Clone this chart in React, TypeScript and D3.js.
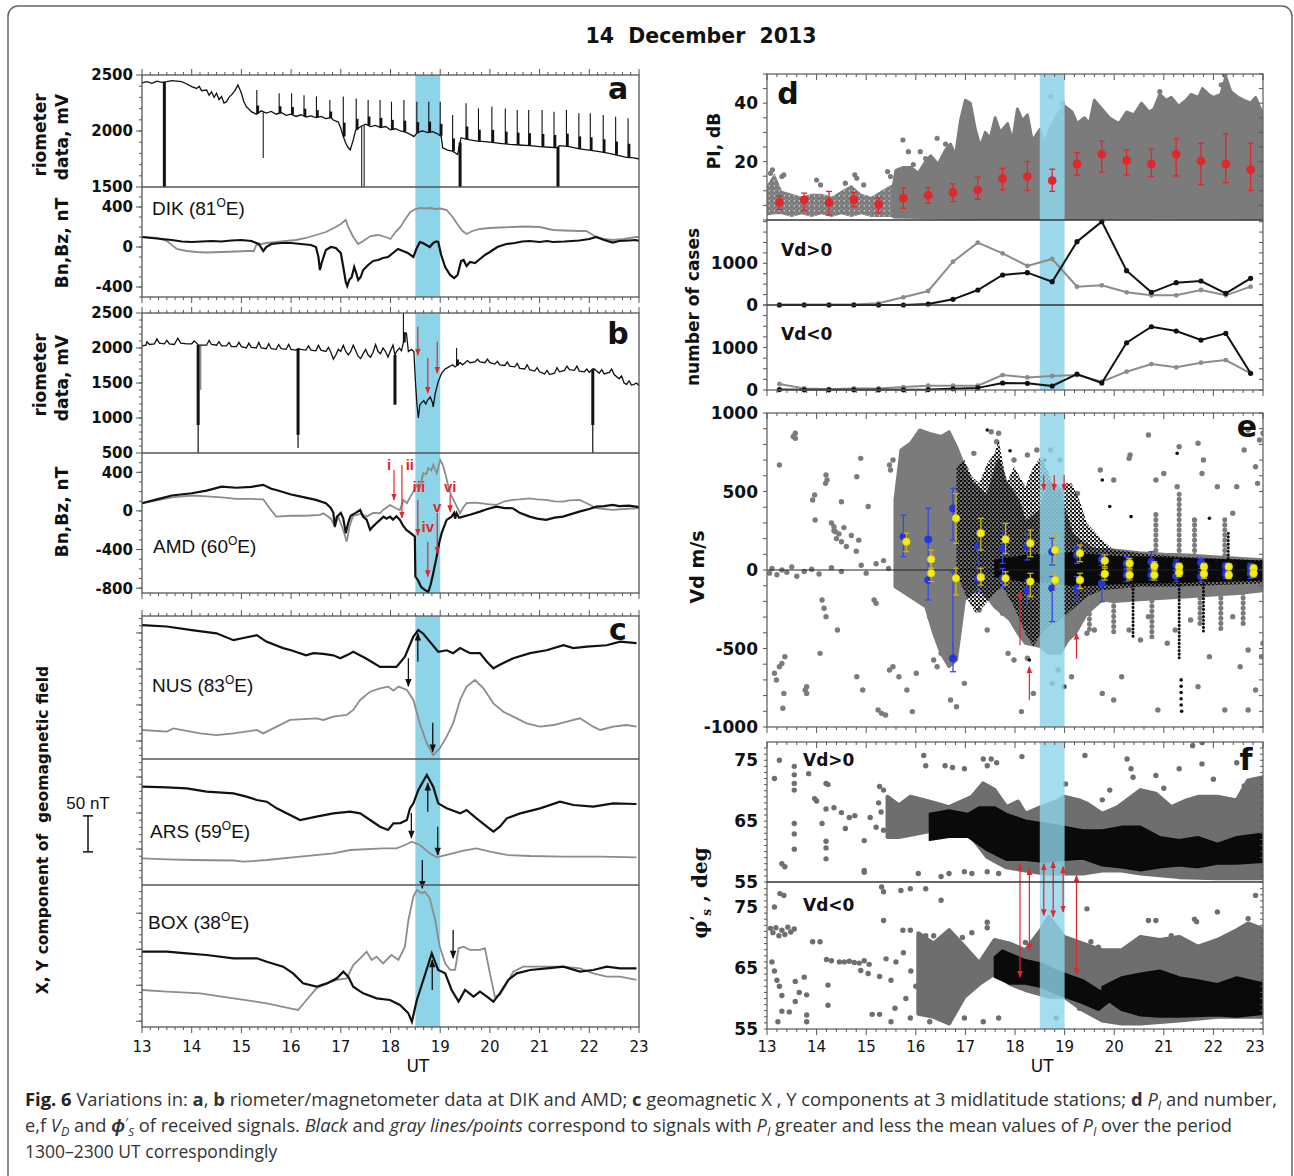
import React from "react";
import * as d3 from "d3";

type P = [number, number];
type R = [number, number, number];
type Q = [number, number, number, number];
type Lin = d3.ScaleLinear<number, number>;

// ---------- shared ----------
const utTicks = d3.range(13, 24);
const eventBand: P = [18.5, 19];

// ---------- panel a: DIK ----------
const dikRio: P[] = [
  [13.0, 2430], [13.1, 2440], [13.2, 2425], [13.3, 2445], [13.4, 2435], [13.5, 2440], [13.6, 2450], [13.7, 2445],
  [13.8, 2440], [13.9, 2420], [14.0, 2396], [14.1, 2380], [14.15, 2400], [14.2, 2360], [14.3, 2366], [14.35, 2320],
  [14.4, 2350], [14.45, 2300], [14.5, 2337], [14.55, 2280], [14.6, 2307], [14.65, 2250], [14.7, 2262], [14.75, 2300],
  [14.8, 2322], [14.87, 2360], [14.93, 2410], [14.97, 2370], [15.0, 2337], [15.05, 2260], [15.1, 2217], [15.2, 2173],
  [15.3, 2150], [15.4, 2180], [15.5, 2160], [15.6, 2175], [15.7, 2150], [15.8, 2165], [15.9, 2140], [16.0, 2150],
  [16.1, 2130], [16.2, 2145], [16.3, 2125], [16.4, 2135], [16.5, 2120], [16.6, 2130], [16.7, 2110], [16.8, 2120],
  [16.85, 2098], [16.95, 2080], [17.0, 2024], [17.05, 1950], [17.1, 1890], [17.15, 1850], [17.19, 1830], [17.25, 1920],
  [17.3, 2008], [17.4, 2040], [17.5, 2060], [17.6, 2040], [17.7, 2050], [17.8, 2030], [17.9, 2040], [18.0, 2010],
  [18.1, 2020], [18.2, 2000], [18.3, 1990], [18.4, 1970], [18.47, 1950], [18.55, 1990], [18.65, 2000], [18.75, 1985],
  [18.85, 1995], [18.95, 1975], [19.02, 1950], [19.05, 1850], [19.15, 1830], [19.25, 1820], [19.35, 1790], [19.42, 1940],
  [19.5, 1930], [19.6, 1920], [19.75, 1910], [19.9, 1905], [20.0, 1900], [20.2, 1890], [20.4, 1880], [20.6, 1875],
  [20.8, 1870], [21.0, 1860], [21.2, 1855], [21.35, 1850], [21.4, 1870], [21.6, 1860], [21.8, 1840], [22.0, 1830],
  [22.2, 1815], [22.4, 1800], [22.6, 1780], [22.75, 1765], [22.9, 1760], [23.0, 1750],
];
const dikRioSpikes: P[] = [
  [15.31, 2366], [15.76, 2336], [16.01, 2336], [16.26, 2320], [16.51, 2307], [16.78, 2277], [17.05, 2307], [17.31, 2290],
  [17.55, 2277], [17.79, 2277], [18.02, 2262], [18.27, 2277], [18.53, 2262], [18.77, 2262], [19.0, 2262], [19.25, 2143],
  [19.52, 2247], [19.77, 2202], [20.04, 2217], [20.31, 2200], [20.55, 2187], [20.78, 2187], [21.05, 2187], [21.29, 2172],
  [21.54, 2187], [21.79, 2158], [22.02, 2158], [22.28, 2143], [22.53, 2128], [22.78, 2113],
];
const dikRioDipsThick: P[] = [[13.45, 1500], [19.4, 1500], [21.37, 1500]];
const dikRioDipsThin: P[] = [[15.44, 1760], [17.42, 1500], [17.47, 1500]];
const dikBlack: P[] = [
  [13.0, 100], [13.2, 90], [13.4, 80], [13.6, 70], [13.8, 55], [14.0, 50], [14.2, 55], [14.4, 60], [14.6, 55], [14.8, 65],
  [15.0, 70], [15.2, 60], [15.35, 30], [15.44, -40], [15.5, 0], [15.6, 30], [15.8, 40], [16.0, 40], [16.2, 30], [16.4, 20],
  [16.5, 0], [16.55, -100], [16.58, -230], [16.62, -150], [16.7, -30], [16.8, 0], [16.9, -10], [17.0, -60], [17.05, -200],
  [17.1, -350], [17.13, -390], [17.17, -330], [17.22, -300], [17.27, -200], [17.31, -260], [17.35, -330], [17.4, -300],
  [17.45, -230], [17.55, -180], [17.65, -140], [17.75, -130], [17.85, -110], [17.95, -100], [18.05, -60], [18.15, -20],
  [18.25, -40], [18.35, -60], [18.46, -100], [18.52, -20], [18.59, 50], [18.65, 40], [18.72, 20], [18.79, 0], [18.86, 40],
  [18.92, 55], [18.96, 50], [19.02, -80], [19.1, -200], [19.2, -280], [19.28, -310], [19.35, -280], [19.42, -140],
  [19.47, -130], [19.53, -190], [19.6, -150], [19.7, -160], [19.8, -120], [19.9, -80], [20.0, -50], [20.15, 0], [20.33, 30],
  [20.5, 40], [20.65, 55], [20.8, 60], [21.0, 50], [21.15, 60], [21.27, 50], [21.5, 55], [21.65, 60], [21.8, 65], [22.0, 80],
  [22.14, 100], [22.3, 70], [22.47, 45], [22.6, 60], [22.8, 65], [22.94, 70], [23.0, 60],
];
const dikGray: P[] = [
  [13.0, 100], [13.3, 90], [13.5, 60], [13.7, -20], [13.9, -40], [14.1, -50], [14.3, -55], [14.6, -50], [14.9, -45],
  [15.1, -40], [15.25, -40], [15.3, 20], [15.5, 40], [15.7, 50], [15.9, 60], [16.1, 70], [16.3, 90], [16.5, 120],
  [16.7, 150], [16.9, 200], [17.0, 230], [17.1, 270], [17.15, 200], [17.25, 100], [17.35, 30], [17.45, 60], [17.6, 110],
  [17.75, 120], [17.9, 100], [18.0, 80], [18.1, 150], [18.2, 200], [18.3, 280], [18.4, 350], [18.5, 380], [18.6, 390],
  [18.7, 385], [18.8, 390], [18.9, 380], [19.0, 385], [19.13, 370], [19.25, 300], [19.33, 240], [19.45, 160], [19.53, 130],
  [19.65, 160], [19.8, 180], [20.0, 190], [20.2, 195], [20.46, 200], [20.7, 205], [21.0, 200], [21.27, 170], [21.5, 165],
  [21.8, 160], [21.94, 160], [22.14, 100], [22.3, 80], [22.47, 70], [22.7, 80], [22.94, 100], [23.0, 100],
];

// ---------- panel b: AMD ----------
const amdRio: P[] = [
  [13.0, 2030], [13.08, 2040], [13.1, 2090], [13.15, 2050], [13.25, 2060], [13.3, 2130], [13.35, 2070], [13.45, 2060],
  [13.5, 2110], [13.55, 2060], [13.65, 2050], [13.72, 2140], [13.78, 2070], [13.9, 2060], [14.0, 2060], [14.05, 2100],
  [14.1, 2070], [14.13, 2040], [14.2, 2040], [14.3, 2040], [14.35, 2110], [14.4, 2050], [14.5, 2040], [14.55, 2090],
  [14.6, 2030], [14.7, 2030], [14.75, 2080], [14.8, 2020], [14.9, 2020], [14.95, 2080], [15.0, 2020], [15.1, 2000],
  [15.15, 2070], [15.2, 2010], [15.3, 2000], [15.35, 2080], [15.4, 2000], [15.5, 1990], [15.55, 2060], [15.6, 1990],
  [15.7, 1980], [15.75, 2050], [15.8, 1990], [15.9, 1980], [15.95, 2050], [16.0, 1980], [16.1, 1970], [16.14, 1990],
  [16.2, 1980], [16.3, 1970], [16.35, 2030], [16.4, 1970], [16.5, 1960], [16.55, 2040], [16.6, 1970], [16.7, 1950],
  [16.75, 2010], [16.8, 1940], [16.85, 1840], [16.9, 1900], [16.95, 1980], [17.0, 1950], [17.05, 2040], [17.1, 1950],
  [17.15, 1900], [17.2, 1950], [17.25, 2040], [17.3, 1960], [17.35, 1880], [17.4, 1850], [17.45, 1920], [17.5, 1980],
  [17.55, 1900], [17.6, 1870], [17.65, 1940], [17.7, 2050], [17.75, 1950], [17.8, 1920], [17.85, 2000], [17.9, 1950],
  [17.95, 1870], [18.0, 1960], [18.05, 2040], [18.09, 1900], [18.12, 1950], [18.18, 2000], [18.22, 1960], [18.26, 2080],
  [18.28, 2200], [18.32, 2210], [18.36, 1950], [18.42, 1980], [18.47, 1950], [18.5, 1540], [18.53, 1210], [18.56, 1000],
  [18.59, 1190], [18.63, 1220], [18.67, 1250], [18.71, 1200], [18.75, 1260], [18.8, 1300], [18.84, 1230], [18.86, 1160],
  [18.9, 1350], [18.96, 1520], [19.03, 1640], [19.1, 1700], [19.15, 1720], [19.2, 1740], [19.25, 1760], [19.3, 1730],
  [19.4, 1790], [19.45, 1760], [19.5, 1790], [19.55, 1820], [19.6, 1790], [19.7, 1800], [19.75, 1840], [19.8, 1800],
  [19.9, 1790], [19.95, 1840], [20.0, 1790], [20.1, 1770], [20.15, 1810], [20.2, 1760], [20.3, 1750], [20.35, 1800],
  [20.4, 1740], [20.5, 1730], [20.55, 1780], [20.6, 1710], [20.7, 1700], [20.75, 1760], [20.8, 1690], [20.9, 1670],
  [20.95, 1720], [21.0, 1660], [21.1, 1630], [21.15, 1680], [21.2, 1620], [21.3, 1640], [21.35, 1720], [21.4, 1660],
  [21.5, 1680], [21.55, 1740], [21.6, 1690], [21.7, 1680], [21.75, 1740], [21.8, 1670], [21.9, 1660], [21.95, 1700],
  [22.0, 1650], [22.07, 1700], [22.1, 1700], [22.2, 1640], [22.25, 1690], [22.3, 1630], [22.4, 1650], [22.45, 1700],
  [22.5, 1620], [22.6, 1560], [22.65, 1600], [22.7, 1500], [22.75, 1480], [22.8, 1530], [22.85, 1470], [22.9, 1480],
  [22.95, 1500], [23.0, 1460],
];
const amdRioSpikes: P[] = [[18.26, 2500], [19.33, 2000]];
const amdRioDipsThick: P[] = [[14.13, 900], [16.14, 760], [18.09, 1190], [22.07, 900]];
const amdRioDipsThin: P[] = [[14.13, 500], [16.14, 570], [22.07, 500]];
const amdRioDipsGray: P[] = [[14.18, 1400]];
const amdBlack: P[] = [
  [13.0, 80], [13.3, 120], [13.6, 160], [14.0, 183], [14.3, 210], [14.6, 252], [14.9, 240], [15.2, 250], [15.44, 270],
  [15.6, 230], [15.7, 217], [16.0, 170], [16.2, 148], [16.5, 114], [16.7, 80], [16.8, 30], [16.85, -20], [16.88, -162],
  [16.92, -60], [17.0, -20], [17.05, -80], [17.1, -230], [17.15, -120], [17.2, -50], [17.3, -20], [17.39, 10], [17.45, -60],
  [17.52, -90], [17.59, -196], [17.65, -160], [17.72, -125], [17.79, -93], [17.86, -60], [17.92, -80], [17.99, -59],
  [18.05, -90], [18.12, -55], [18.19, -93], [18.25, -150], [18.32, -196], [18.4, -228], [18.49, -266], [18.5, -680],
  [18.55, -715], [18.62, -790], [18.69, -818], [18.76, -840], [18.81, -760], [18.86, -645], [18.93, -473], [18.98, -330],
  [19.03, -228], [19.13, -93], [19.23, -59], [19.28, -20], [19.3, -80], [19.33, -24], [19.38, -70], [19.46, -59],
  [19.6, -40], [19.8, -7], [19.95, 20], [20.13, 45], [20.3, 30], [20.46, 28], [20.6, -20], [20.8, -59], [20.95, -80],
  [21.13, -93], [21.3, -70], [21.47, -59], [21.65, -30], [21.8, -7], [22.0, 20], [22.14, 45], [22.3, 50], [22.47, 62],
  [22.6, 50], [22.8, 55], [22.94, 45], [23.0, 40],
];
const amdGray: P[] = [
  [13.0, 80], [13.3, 110], [13.6, 140], [14.0, 160], [14.3, 150], [14.6, 140], [14.9, 125], [15.2, 124], [15.44, 120],
  [15.55, 40], [15.7, -59], [16.0, -50], [16.3, -50], [16.58, -40], [16.65, -24], [16.8, -80], [16.88, -162], [16.95, -60],
  [17.05, -200], [17.12, -318], [17.18, -150], [17.25, -50], [17.4, -30], [17.52, -59], [17.65, -20], [17.79, -24],
  [17.85, 10], [17.99, 62], [18.1, 30], [18.19, 10], [18.26, 114], [18.33, 80], [18.4, 148], [18.46, 200], [18.53, 269],
  [18.59, 240], [18.66, 390], [18.72, 380], [18.76, 442], [18.82, 420], [18.86, 476], [18.93, 390], [19.0, 528],
  [19.05, 480], [19.1, 390], [19.2, 183], [19.3, 80], [19.36, 20], [19.4, -24], [19.47, 40], [19.53, 80], [19.7, 85],
  [19.8, 80], [19.95, 70], [20.13, 62], [20.3, 100], [20.46, 114], [20.6, 120], [20.8, 131], [20.95, 120], [21.13, 114],
  [21.3, 100], [21.47, 97], [21.6, 110], [21.8, 114], [21.95, 80], [22.14, 28], [22.3, 20], [22.47, 10], [22.7, 20],
  [22.94, 28], [23.0, 30],
];
const amdRioArrows: R[] = [[18.55, 2304, 1900], [18.75, 1857, 1357], [18.94, 2090, 1643]];
const amdMagArrows: R[] = [
  [18.07, 425, 114], [18.23, 476, -72], [18.55, 114, -249], [18.75, -318, -680], [18.94, -21, -435], [19.2, 166, -7],
];
const amdMagLabels = ["i", "ii", "iii", "iv", "v", "vi"];
const amdMagLabelPos: P[] = [[17.97, 476], [18.39, 476], [18.57, 249], [18.75, -166], [18.94, 41], [19.2, 249]];

// ---------- panel c: X, Y components (nT above panel floor) ----------
const nusBlack: P[] = [
  [13.0, 186], [13.5, 184], [14.0, 179], [14.5, 174.5], [14.84, 165], [15.04, 168], [15.31, 172], [15.5, 163],
  [15.84, 154], [16.0, 151], [16.3, 144], [16.45, 147], [16.65, 146], [16.85, 144], [16.99, 140], [17.15, 145],
  [17.25, 149], [17.5, 140], [17.79, 128], [17.99, 128], [18.12, 128], [18.29, 142], [18.46, 170], [18.56, 179],
  [18.66, 174], [18.79, 163], [18.96, 149], [19.13, 151], [19.26, 147], [19.4, 154], [19.6, 147], [19.8, 147],
  [19.94, 135], [20.07, 126], [20.2, 131], [20.47, 140], [20.81, 147], [21.14, 151], [21.48, 158], [21.68, 154],
  [21.95, 156], [22.35, 158], [22.62, 163], [22.95, 161],
];
const nusGray: P[] = [
  [13.0, 40.3], [13.5, 38], [13.63, 42.6], [14.17, 35.6], [14.5, 33.3], [14.84, 35.6], [15.31, 40.3], [15.44, 35.6],
  [15.71, 44.9], [15.98, 54.2], [16.51, 56.5], [16.65, 54.2], [16.85, 58.8], [17.12, 61.1], [17.25, 68.1], [17.39, 82],
  [17.59, 93.5], [17.79, 98.1], [17.95, 100.5], [18.06, 95], [18.16, 100.5], [18.33, 95.8], [18.46, 82], [18.59, 49.5],
  [18.73, 21.8], [18.86, 5.6], [18.99, 14.8], [19.13, 31], [19.26, 49.5], [19.4, 82], [19.53, 100.5], [19.7, 109.7],
  [19.87, 98.1], [20.07, 77.3], [20.27, 65.7], [20.47, 58.8], [20.74, 49.5], [21.01, 44.9], [21.28, 47.2], [21.55, 51.9],
  [21.81, 56.5], [22.08, 44.9], [22.22, 40.3], [22.48, 44.9], [22.75, 47.2], [22.95, 44.9],
];
const arsBlack: P[] = [
  [13.0, 136.6], [13.5, 135.6], [13.9, 134.3], [14.3, 129.6], [14.84, 127.3], [15.1, 122.7], [15.31, 118.1],
  [15.51, 115.7], [15.71, 106.5], [15.98, 97.2], [16.18, 90.3], [16.51, 94.9], [16.85, 99.5], [17.19, 101.9],
  [17.39, 99.5], [17.59, 90.3], [17.79, 81], [17.95, 76.4], [18.06, 85.6], [18.2, 86], [18.33, 90.3], [18.39, 106],
  [18.46, 113.4], [18.56, 131.9], [18.73, 152.8], [18.86, 136.6], [18.96, 113.4], [19.13, 106.5], [19.4, 99.5],
  [19.53, 104.2], [19.73, 92.6], [19.94, 81], [20.07, 74], [20.2, 81], [20.34, 92.6], [20.61, 99.5], [21.01, 106.5],
  [21.41, 115.7], [21.68, 111.1], [22.08, 108.8], [22.48, 113.4], [22.95, 112.5],
];
const arsGray: P[] = [
  [13.0, 37], [13.5, 35.6], [14.0, 34.7], [14.84, 34], [15.04, 32.4], [15.51, 34.7], [16.18, 39.4], [16.85, 44],
  [17.19, 48.6], [17.85, 50.9], [18.12, 50.9], [18.29, 55.6], [18.43, 60.2], [18.59, 55.6], [18.79, 44], [18.93, 38.4],
  [19.13, 41.7], [19.47, 47.7], [19.73, 50.9], [20.0, 46.3], [20.34, 41.7], [20.81, 40.3], [21.48, 39.4], [22.22, 39.4],
  [22.95, 38.4],
];
const boxBlack: P[] = [
  [13.0, 104.6], [13.5, 104.6], [13.9, 102.3], [14.3, 100], [14.84, 95.4], [15.31, 95.4], [15.51, 90.7], [15.84, 83.8],
  [16.04, 74.5], [16.24, 60.6], [16.51, 56], [16.72, 60.6], [16.92, 67.6], [17.05, 76.9], [17.15, 69.9], [17.25, 56],
  [17.45, 46.8], [17.72, 39.8], [17.99, 37.5], [18.19, 30.6], [18.36, 19], [18.43, 7.4], [18.53, 37.5], [18.66, 65.3],
  [18.83, 102.3], [18.96, 79.2], [19.1, 74.5], [19.23, 51.4], [19.37, 35.2], [19.5, 51.4], [19.67, 42.1], [19.8, 49.1],
  [19.94, 42.1], [20.07, 35.2], [20.2, 46.8], [20.37, 65.3], [20.54, 74.5], [20.81, 79.2], [21.14, 81.5], [21.48, 83.8],
  [21.81, 76.9], [22.08, 79.2], [22.35, 83.8], [22.62, 81.5], [22.95, 81.5],
];
const boxGray: P[] = [
  [13.0, 51.4], [13.5, 49.1], [14.17, 46.8], [14.84, 39.8], [15.51, 32.9], [15.98, 25.9], [16.14, 23.6], [16.31, 37.5],
  [16.51, 53.7], [16.72, 60.6], [16.92, 65.3], [17.12, 67.6], [17.25, 86.1], [17.39, 95.4], [17.52, 104.6], [17.62, 93.1],
  [17.72, 97.7], [17.85, 88.4], [18.02, 100], [18.16, 93.1], [18.29, 111.6], [18.36, 148.6], [18.46, 181], [18.53, 190.3],
  [18.63, 185.6], [18.69, 188], [18.79, 178.7], [18.9, 148.6], [18.99, 111.6], [19.1, 88.4], [19.2, 79.2], [19.3, 79.2],
  [19.37, 109.3], [19.47, 111.6], [19.6, 107], [19.8, 107], [19.9, 109.3], [20.0, 74.5], [20.1, 42.1], [20.2, 44.4],
  [20.34, 60.6], [20.47, 76.9], [20.67, 83.8], [21.01, 83.8], [21.48, 83.8], [21.81, 81.5], [22.08, 74.5], [22.35, 69.9],
  [22.62, 69.9], [22.95, 65.3],
];
const nusArrows: R[] = [[18.55, 135, 174.6], [18.36, 140, 101], [18.85, 50.4, 10]];
const arsArrows: R[] = [[18.75, 101.8, 141.2], [18.42, 100, 65.3], [18.95, 81, 41.7]];
const boxArrows: R[] = [[18.64, 232, 192.6], [18.84, 51.4, 93], [19.26, 134.7, 95.8]];
const scaleBarNT = 50;

// ---------- panel d: PI and number of cases ----------
const piMean: Q[] = [
  [13.25, 6.0, 3.6, 8.3], [13.75, 6.9, 3.2, 9.2], [14.25, 6.0, 1.7, 9.8], [14.75, 6.9, 4.6, 9.4], [15.25, 5.3, 2.5, 7.5],
  [15.75, 7.5, 4.0, 10.9], [16.25, 8.5, 5.7, 11.1], [16.75, 9.4, 6.3, 12.4], [17.25, 10.3, 7.1, 14.7],
  [17.75, 14.2, 10.3, 17.7], [18.25, 14.9, 10.1, 20.0], [18.75, 13.5, 9.8, 17.4], [19.25, 19.2, 15.4, 23.1],
  [19.75, 22.5, 16.4, 27.0], [20.25, 20.4, 15.4, 24.0], [20.75, 19.2, 14.9, 24.3], [21.25, 22.5, 15.1, 27.8],
  [21.75, 20.2, 12.1, 26.3], [22.25, 19.2, 12.8, 29.5], [22.75, 17.2, 10.1, 26.3],
];
const piCloudEarly: R[] = [
  [13.0, 1.5, 12], [13.15, 2, 16], [13.3, 2, 10], [13.5, 1, 9], [13.7, 2, 8], [13.9, 1, 9], [14.1, 2, 9], [14.3, 1, 8],
  [14.5, 2, 10], [14.7, 1, 12], [14.9, 2, 9], [15.1, 1, 8], [15.3, 1, 10], [15.5, 1, 12], [15.6, 1, 12],
];
const piCloudTop: P[] = [
  [15.55, 12], [15.6, 17], [15.75, 18], [15.9, 18], [16.05, 16], [16.2, 20], [16.3, 22], [16.45, 19], [16.6, 24], [16.7, 26],
  [16.8, 22], [16.9, 34], [17.0, 41], [17.1, 40], [17.2, 31], [17.3, 25], [17.4, 30], [17.5, 28], [17.6, 35], [17.7, 30],
  [17.85, 33], [17.95, 27], [18.05, 38], [18.15, 34], [18.25, 36], [18.35, 27], [18.5, 31], [18.6, 26], [18.7, 31],
  [18.85, 36], [19.0, 39], [19.15, 37], [19.25, 33], [19.4, 35], [19.5, 33], [19.6, 41], [19.75, 38], [19.9, 35], [20.0, 34],
  [20.1, 33], [20.25, 37], [20.4, 36], [20.55, 40], [20.7, 37], [20.8, 38], [20.92, 43], [21.05, 41], [21.15, 42],
  [21.3, 39], [21.45, 41], [21.55, 43], [21.7, 42], [21.78, 45], [21.9, 43], [22.0, 42], [22.15, 43], [22.25, 49],
  [22.35, 44], [22.5, 42], [22.62, 41], [22.75, 40], [22.85, 42], [22.95, 38], [23.05, 35],
];
const piCloudBottom: P[] = [[15.55, 1], [17.0, 0.6], [19.0, 0.5], [21.0, 0.8], [23.05, 0.6]];
const piOutliers: P[] = [
  [13.07, 16.0], [13.11, 17.2], [13.3, 14.9], [13.34, 15.5], [14.0, 13.7], [14.08, 12.0], [14.58, 12.6], [14.77, 15.5],
  [14.81, 14.3], [14.95, 12.0], [15.43, 16.6], [15.49, 14.9], [15.74, 27.4], [15.85, 23.4], [16.09, 23.4], [16.43, 28.0],
  [18.72, 42.3], [18.95, 40.0], [22.23, 49.7], [22.16, 46.3], [20.92, 44.0], [16.2, 21], [15.95, 19], [16.6, 26],
];
const casesPosGray: P[] = [
  [13.25, 10], [13.75, 10], [14.25, 10], [14.75, 10], [15.25, 40], [15.75, 184], [16.25, 336], [16.75, 1040],
  [17.25, 1496], [17.75, 1240], [18.25, 936], [18.75, 1104], [19.25, 440], [19.75, 472], [20.25, 304], [20.75, 232],
  [21.25, 232], [21.75, 360], [22.25, 232], [22.75, 440],
];
const casesPosBlack: P[] = [
  [13.25, 0], [13.75, 0], [14.25, 0], [14.75, 0], [15.25, 0], [15.75, 0], [16.25, 24], [16.75, 136], [17.25, 360],
  [17.75, 720], [18.25, 776], [18.75, 560], [19.25, 1520], [19.75, 2000], [20.25, 824], [20.75, 304], [21.25, 536],
  [21.75, 576], [22.25, 280], [22.75, 640],
];
const casesNegGray: P[] = [
  [13.25, 141], [13.75, 35], [14.25, 20], [14.75, 35], [15.25, 35], [15.75, 70], [16.25, 100], [16.75, 100], [17.25, 100],
  [17.75, 352], [18.25, 297], [18.75, 329], [19.25, 352], [19.75, 196], [20.25, 431], [20.75, 611], [21.25, 533],
  [21.75, 642], [22.25, 705], [22.75, 392],
];
const casesNegBlack: P[] = [
  [13.25, 10], [13.75, 5], [14.25, 5], [14.75, 5], [15.25, 5], [15.75, 5], [16.25, 10], [16.75, 30], [17.25, 50],
  [17.75, 165], [18.25, 157], [18.75, 94], [19.25, 376], [19.75, 165], [20.25, 1112], [20.75, 1488], [21.25, 1386],
  [21.75, 1175], [22.25, 1332], [22.75, 392],
];

// ---------- panel e: Vd ----------
const vdGrayHi: P[] = [
  [15.58, 446], [15.7, 764], [15.89, 807], [16.08, 892], [16.28, 870], [16.51, 850], [16.67, 881], [16.82, 786],
  [16.98, 658], [17.13, 552], [17.44, 467], [17.67, 701], [17.83, 552], [18.06, 446], [18.21, 297], [18.52, 382],
  [18.68, 552], [18.87, 531], [18.99, 382], [19.14, 234], [19.37, 170], [19.6, 130], [20.0, 127], [20.5, 110], [21.0, 100],
  [21.5, 95], [22.0, 85], [22.5, 75], [23.05, 64],
];
const vdGrayLo: P[] = [
  [15.58, -106], [15.89, -170], [16.2, -234], [16.36, -403], [16.51, -531], [16.67, -616], [16.82, -573], [16.98, -191],
  [17.28, -106], [17.59, -234], [17.9, -318], [18.06, -403], [18.21, -467], [18.52, -488], [18.68, -531], [18.91, -531],
  [19.07, -446], [19.22, -403], [19.45, -276], [19.76, -191], [20.0, -200], [20.5, -190], [21.0, -180], [21.5, -170],
  [22.0, -160], [22.5, -150], [23.05, -130],
];
const vdBlackHi: P[] = [
  [16.82, 658], [16.98, 700], [17.13, 595], [17.28, 552], [17.44, 679], [17.59, 743], [17.67, 828], [17.83, 552],
  [17.98, 658], [18.21, 531], [18.37, 658], [18.52, 722], [18.68, 615], [18.83, 488], [18.99, 552], [19.14, 552],
  [19.3, 446], [19.45, 297], [19.76, 191], [19.99, 127], [20.53, 106], [20.92, 95], [21.31, 85], [22.08, 74], [22.85, 64],
  [23.05, 64],
];
const vdBlackLo: P[] = [
  [16.82, -21], [17.05, -191], [17.21, -276], [17.36, -234], [17.59, -148], [17.75, -106], [17.98, -234], [18.21, -403],
  [18.37, -488], [18.52, -403], [18.68, -361], [18.91, -318], [19.07, -276], [19.22, -234], [19.45, -170], [19.76, -127],
  [20.53, -106], [21.31, -106], [22.08, -95], [23.05, -85],
];
const vdCore: R[] = [
  [17.6, -40, 60], [18.2, -70, 90], [18.9, -80, 100], [19.2, -100, 110], [19.5, -95, 95], [20.0, -85, 85], [20.5, -80, 80],
  [21.0, -80, 75], [21.5, -75, 70], [22.0, -70, 65], [22.5, -65, 60], [23.05, -60, 50],
];
const vdGrayPts: P[] = [
  [13.25, 669], [13.53, 850], [13.57, 871], [13.57, 839], [13.92, 446], [13.96, 478], [13.97, 318], [14.19, 605],
  [14.21, 573], [14.18, 552], [14.35, 276], [14.38, 244], [14.5, 435], [14.89, 711], [15.04, 404], [14.81, 594],
  [15.47, 669], [15.49, 637], [15.54, 701], [17.17, 743], [17.52, 881], [17.63, 817], [17.67, 871], [17.98, 701],
  [18.25, 733], [18.44, 764], [18.72, 764], [18.91, 701], [19.26, 488], [19.72, 637], [19.99, 573], [20.3, 711],
  [20.32, 733], [20.69, 860], [20.84, 573], [21.0, 615], [21.27, 531], [21.31, 785], [21.62, 318], [21.69, 807],
  [21.77, 615], [21.8, 701], [22.08, 531], [22.39, 361], [22.47, 531], [22.62, 764], [22.7, 892], [22.85, 658],
  [22.93, 828], [23.0, 871], [22.89, 552],
  [13.15, -658], [13.19, -701], [13.25, -616], [13.3, -595], [13.36, -552], [13.34, -786], [13.32, -881], [13.77, -764],
  [13.8, -786], [13.8, -743], [14.07, -531], [14.11, -191], [14.15, -244], [14.19, -297], [14.42, -382], [14.81, -680],
  [14.93, -764], [15.16, -191], [15.2, -212], [15.24, -892], [15.31, -913], [15.39, -924], [15.47, -637], [15.54, -616],
  [15.66, -680], [15.82, -764], [15.93, -902], [16.01, -658], [16.28, -297], [16.36, -573], [16.43, -616], [16.51, -531],
  [16.7, -828], [16.82, -871], [16.98, -722], [17.28, -255], [17.44, -382], [17.75, -276], [17.86, -531], [17.98, -573],
  [18.13, -902], [18.25, -562], [18.37, -786], [18.6, -488], [18.75, -722], [18.87, -637], [18.99, -743], [19.14, -680],
  [19.45, -403], [19.6, -382], [19.76, -786], [19.99, -828], [20.15, -680], [20.3, -382], [20.53, -446], [20.69, -297],
  [20.88, -892], [21.07, -467], [21.23, -382], [21.54, -318], [21.69, -743], [21.92, -552], [22.23, -892], [22.39, -297],
  [22.54, -616], [22.7, -510], [22.85, -764], [22.97, -552], [23.0, -467], [22.7, -892],
  [13.05, -20], [13.1, 10], [13.2, -30], [13.3, 0], [13.4, -15], [13.5, 20], [13.6, -40], [13.75, -10], [13.9, 5],
  [14.05, -25], [14.3, 15], [14.5, -10], [14.9, 30], [15.0, -20], [15.2, 40], [15.35, 60], [15.45, 10], [14.3, 300],
  [14.35, 250], [14.4, 200], [14.45, 230], [14.5, 180], [14.55, 270], [14.6, 150], [14.7, 220], [14.8, 120], [14.85, 190],
];
const vdBlackPts: P[] = [
  [17.44, 892], [19.76, 573], [19.91, 404], [20.34, 340], [21.27, 743], [21.92, 329], [18.29, -573], [18.99, -743],
  [21.35, -700], [21.35, -740], [21.35, -780], [21.35, -820], [21.35, -860], [21.36, -900], [18.6, 700], [17.9, 760],
];
const vdGrayStreaks: R[] = [
  [19.99, -100, -403], [20.76, -100, -446], [21.73, -80, -340], [22.15, -80, -400], [20.84, 60, 380], [21.31, 60, 488],
  [21.62, 60, 300], [22.23, 60, 330], [19.5, -150, -400], [22.6, -80, -350],
];
const vdBlackStreaks: R[] = [[20.38, -100, -430], [21.31, -100, -560], [21.8, -90, -400], [22.3, 50, 250]];
const vdBluePos: Q[] = [
  [15.75, 212, 85, 350], [16.25, 195, 0, 393], [16.75, 392, 191, 520], [17.25, 149, 42, 234], [17.75, 138, 42, 244],
  [18.25, 149, 64, 234], [18.75, 117, 32, 202], [19.25, 95, 42, 149], [19.75, 68, 32, 106], [20.25, 42, 11, 85],
  [20.75, 53, 11, 117], [21.25, 32, 0, 64], [21.75, 47, 11, 74], [22.25, 25, 11, 42], [22.75, 21, 0, 42],
];
const vdBlueNeg: Q[] = [
  [16.25, -64, -191, 0], [16.75, -563, -648, -11], [17.25, -64, -138, 10], [17.75, -53, -106, 10], [18.25, -127, -212, -64],
  [18.75, -117, -329, -42], [19.25, -117, -191, -42], [19.75, -85, -202, -32], [20.25, -32, -74, 0], [20.75, -32, -64, 0],
  [21.25, -38, -74, -4], [21.75, -42, -74, -11], [22.25, -25, -53, -4], [22.75, -21, -53, 0],
];
const vdYellowPos: Q[] = [
  [15.81, 180, 117, 234], [16.31, 68, 11, 127], [16.81, 329, 170, 488], [17.31, 234, 127, 329], [17.81, 195, 106, 297],
  [18.31, 170, 85, 255], [18.81, 127, 42, 212], [19.31, 106, 53, 159], [19.81, 59, 21, 96], [20.31, 42, 11, 74],
  [20.81, 25, 4, 53], [21.31, 21, 0, 42], [21.81, 21, 0, 42], [22.31, 21, 4, 38], [22.81, 11, 0, 30],
];
const vdYellowNeg: Q[] = [
  [16.31, -21, -74, 11], [16.81, -53, -159, 11], [17.31, -47, -96, 11], [17.81, -53, -96, -11], [18.31, -74, -170, -21],
  [18.81, -64, -138, -21], [19.31, -64, -117, -21], [19.81, -25, -64, 11], [20.31, -32, -64, 0], [20.81, -32, -64, -4],
  [21.31, -17, -42, 0], [21.81, -25, -53, -4], [22.31, -32, -55, -10], [22.81, -21, -45, 0],
];
const vdArrowsUp: R[] = [[18.1, -479, -138], [18.29, -828, -616], [19.24, -565, -403]];
const vdArrowsDown: R[] = [[18.58, 605, 510], [18.79, 605, 510], [18.99, 605, 510]];

// ---------- panel f: phi's ----------
const phUpGrayHi: P[] = [
  [15.43, 69.0], [15.66, 67.6], [15.89, 69.0], [16.28, 68.2], [16.67, 67.3], [17.13, 69.0], [17.36, 71.2], [17.59, 70.1],
  [17.83, 67.3], [18.06, 68.2], [18.21, 66.2], [18.52, 67.3], [18.83, 68.2], [18.99, 69.0], [19.3, 68.4], [19.45, 67.9],
  [19.76, 66.2], [20.07, 67.3], [20.53, 70.1], [20.84, 69.5], [21.15, 67.3], [21.46, 68.4], [21.69, 69.0], [22.08, 69.0],
  [22.47, 68.4], [22.7, 71.7], [23.05, 72.3],
];
const phUpGrayLo: P[] = [
  [15.43, 62.4], [15.66, 62.4], [16.05, 63.0], [16.36, 63.5], [16.67, 64.1], [17.13, 62.4], [17.44, 59.1], [17.83, 57.4],
  [18.21, 56.9], [18.6, 56.4], [18.99, 56.4], [19.37, 56.4], [19.76, 56.9], [20.15, 56.9], [20.53, 56.4], [21.31, 55.8],
  [22.08, 55.6], [23.05, 55.6],
];
const phUpBlackHi: P[] = [
  [16.28, 66.2], [16.67, 66.8], [17.05, 66.2], [17.28, 67.3], [17.59, 67.3], [17.83, 66.2], [18.21, 65.1], [18.6, 64.6],
  [18.99, 64.1], [19.37, 63.5], [19.76, 63.5], [20.15, 64.1], [20.53, 64.1], [20.92, 62.4], [21.31, 61.9], [21.69, 62.4],
  [22.08, 61.3], [22.47, 62.4], [23.05, 63.0],
];
const phUpBlackLo: P[] = [
  [16.28, 61.9], [16.67, 62.4], [17.05, 62.4], [17.44, 60.2], [17.83, 58.6], [18.21, 58.6], [18.6, 58.3], [18.99, 58.6],
  [19.37, 58.8], [19.76, 57.7], [20.15, 57.4], [20.53, 56.9], [20.92, 57.4], [21.31, 57.7], [21.69, 57.4], [22.08, 58.0],
  [22.47, 58.0], [23.05, 58.3],
];
const phUpPts: P[] = [
  [13.15, 72.0], [13.25, 75.0], [13.3, 58.0], [13.36, 57.5], [13.55, 74.0], [13.55, 72.6], [13.55, 71.2], [13.55, 70.1],
  [13.55, 64.6], [13.55, 62.9], [13.55, 60.4], [13.84, 72.8], [13.96, 68.7], [14.0, 68.3], [14.11, 64.6], [14.19, 67.0],
  [14.19, 71.2], [14.23, 71.0], [14.19, 61.7], [14.19, 60.6], [14.19, 58.8], [14.35, 67.2], [14.5, 66.4], [14.66, 65.6],
  [14.77, 65.9], [14.58, 63.8], [14.96, 61.8], [14.96, 56.9], [15.08, 65.6], [15.2, 64.0], [15.27, 70.7], [15.35, 70.1],
  [16.16, 75.8], [16.2, 74.1], [16.59, 74.1], [16.74, 73.8], [16.98, 73.6], [17.36, 75.2], [17.44, 74.1], [17.52, 75.2],
  [17.63, 74.6], [18.14, 75.6], [19.02, 71.1], [19.41, 75.8], [19.76, 68.5], [19.91, 70.1], [20.26, 75.2], [20.34, 73.6],
  [20.38, 72.2], [20.84, 72.5], [21.0, 70.4], [21.31, 73.6], [21.58, 77.4], [21.77, 77.9], [21.77, 74.4], [22.0, 71.9],
  [22.47, 74.6], [22.62, 70.8], [22.85, 71.4], [16.05, 56.4], [16.51, 55.9], [16.67, 56.4], [16.98, 56.7], [17.13, 56.4],
  [17.44, 56.7], [17.67, 56.4], [14.96, 56.6], [15.3, 66.5], [15.25, 68.0], [15.35, 63.5],
];
const phLoGrayHi: P[] = [
  [16.05, 70.7], [16.36, 69.0], [16.67, 71.2], [16.98, 68.5], [17.28, 65.8], [17.59, 69.6], [17.9, 69.0], [18.21, 67.9],
  [18.52, 71.2], [18.68, 73.4], [18.99, 70.1], [19.37, 69.0], [19.76, 67.9], [20.15, 67.9], [20.53, 70.1], [20.92, 69.6],
  [21.31, 70.1], [21.69, 68.5], [22.08, 69.6], [22.47, 71.2], [22.7, 72.3], [23.05, 71.2],
];
const phLoGrayLo: P[] = [
  [16.05, 57.5], [16.36, 57.0], [16.67, 55.9], [16.98, 60.3], [17.28, 62.4], [17.59, 64.1], [17.9, 62.4], [18.21, 61.4],
  [18.68, 60.3], [18.99, 60.3], [19.37, 58.1], [19.76, 56.4], [20.15, 55.9], [20.53, 55.9], [21.31, 56.4], [22.08, 57.0],
  [23.05, 57.0],
];
const phLoBlack1Hi: P[] = [
  [17.59, 66.8], [17.75, 67.9], [18.06, 66.8], [18.21, 66.3], [18.52, 65.8], [18.83, 64.6], [18.99, 64.1], [19.37, 63.0],
  [19.68, 61.4], [19.9, 60.5],
];
const phLoBlack1Lo: P[] = [
  [17.59, 63.5], [17.9, 62.4], [18.21, 62.4], [18.52, 61.9], [18.83, 60.8], [18.99, 60.3], [19.37, 59.2], [19.68, 58.1],
  [19.9, 59.5],
];
const phLoBlack2Hi: P[] = [
  [19.76, 61.9], [20.15, 63.5], [20.53, 64.1], [20.92, 64.6], [21.31, 63.5], [21.69, 63.0], [22.08, 62.4], [22.47, 63.5],
  [23.05, 62.4],
];
const phLoBlack2Lo: P[] = [
  [19.76, 60.3], [20.15, 58.1], [20.53, 57.2], [20.92, 57.0], [21.31, 57.0], [22.08, 57.2], [22.47, 57.0], [23.05, 57.5],
];
const phLoPts: P[] = [
  [13.26, 77.2], [13.34, 76.9], [13.15, 75.0], [13.07, 71.5], [13.12, 70.8], [13.18, 71.6], [13.24, 70.3], [13.3, 71.2],
  [13.36, 70.5], [13.42, 71.7], [13.48, 70.9], [13.55, 71.4], [13.1, 66.0], [13.15, 64.5], [13.2, 63.0], [13.25, 62.0],
  [13.3, 60.5], [13.92, 69.3], [14.07, 69.3], [14.46, 66.0], [14.56, 66.0], [14.66, 66.1], [14.76, 65.9], [14.86, 65.8],
  [14.96, 66.2], [15.06, 65.6], [14.89, 64.6], [15.04, 64.1], [15.27, 63.6], [14.23, 62.2], [14.23, 58.9], [13.8, 60.6],
  [13.8, 57.3], [13.8, 56.2], [13.22, 56.2], [13.3, 57.9], [13.57, 59.5], [13.57, 62.8], [15.31, 78.3], [15.35, 77.5],
  [15.7, 77.7], [15.89, 78.0], [16.2, 78.0], [16.51, 76.1], [15.35, 72.8], [15.74, 71.2], [15.89, 71.2], [16.2, 70.3],
  [16.36, 70.3], [16.67, 70.8], [16.94, 70.0], [17.13, 70.8], [17.44, 72.5], [17.44, 71.6], [18.21, 69.2], [19.45, 74.7],
  [19.53, 69.3], [19.68, 68.4], [19.91, 64.6], [20.38, 68.7], [20.69, 72.8], [20.84, 72.8], [21.15, 70.3], [21.62, 73.0],
  [21.66, 72.6], [22.08, 74.2], [22.47, 70.3], [22.7, 73.1], [22.85, 76.9], [22.93, 69.2], [15.12, 57.4], [15.27, 57.4],
  [15.5, 56.2], [15.58, 58.4], [15.89, 56.8], [16.28, 56.2], [16.5, 57.0], [16.67, 56.2], [16.98, 56.8], [17.36, 56.2],
  [17.67, 56.8], [18.83, 56.8], [19.3, 58.4], [19.84, 56.8], [15.6, 66.0], [15.75, 67.5], [15.9, 64.5], [16.0, 62.0],
  [15.8, 60.0], [15.5, 63.0], [15.4, 66.5], [14.3, 66.2], [14.2, 66.4], [13.75, 63.5], [13.65, 61.0], [13.45, 57.8],
];
const phArrows: R[] = [
  [18.1, 63.5, 82.1], [18.29, 67.9, 81.3], [18.58, 73.6, 82.1], [18.77, 73.4, 82.4], [18.97, 74.2, 81.6], [19.24, 64.0, 80.2],
];

// ---------- helpers ----------
const FONT = "DejaVu Sans, Verdana, sans-serif";
const ARIAL = "Liberation Sans, Arial, sans-serif";
const BLACK = "#111";
const GRAY_LINE = "#8c8c8c";
const GRAY_PT = "#7b7b7b";
const GRAY_F = "#6e6e6e";
const CYAN = "#8dd4e8";
const RED = "#e3262a";

function interpAt(series: P[], t: number) {
  const i = d3.bisector((d: P) => d[0]).left(series, t);
  if (i <= 0) return series[0][1];
  if (i >= series.length) return series[series.length - 1][1];
  const [t0, v0] = series[i - 1];
  const [t1, v1] = series[i];
  return v0 + ((v1 - v0) * (t - t0)) / (t1 - t0);
}

function linePath(data: P[], x: Lin, y: Lin) {
  return d3.line<P>().x((d) => x(d[0])).y((d) => y(d[1]))(data) || "";
}

function polyPath(hi: P[], lo: P[], x: Lin, y: Lin) {
  return linePath([...hi, ...lo.slice().reverse()], x, y) + "Z";
}

function areaPath(data: R[], x: Lin, y: Lin) {
  return (
    d3
      .area<R>()
      .x((d) => x(d[0]))
      .y0((d) => y(d[1]))
      .y1((d) => y(d[2]))(data) || ""
  );
}

function XTicks({ x, y, dir, step }: { x: Lin; y: number; dir: number; step: number }) {
  const ts = d3.range(13, 23 + 1e-6, step);
  return (
    <g stroke="#555" strokeWidth={1}>
      {ts.map((t, i) => {
        const major = Math.abs(t - Math.round(t)) < 1e-6;
        return <line key={i} x1={x(t)} x2={x(t)} y1={y} y2={y + dir * (major ? 6 : 3)} />;
      })}
    </g>
  );
}

function YTicks({ y, x, dir, values, len }: { y: Lin; x: number; dir: number; values: number[]; len: number }) {
  return (
    <g stroke="#555" strokeWidth={1}>
      {values.map((v, i) => (
        <line key={i} x1={x} x2={x + dir * len} y1={y(v)} y2={y(v)} />
      ))}
    </g>
  );
}

function YLabels({ y, x, values, size }: { y: Lin; x: number; values: number[]; size: number }) {
  return (
    <g fontFamily={FONT} fontWeight="bold" fontSize={size} textAnchor="end" fill="#111">
      {values.map((v, i) => (
        <text key={i} x={x} y={y(v)} dy="0.36em">
          {String(v)}
        </text>
      ))}
    </g>
  );
}

function Station({ x, y, name, lon }: { x: number; y: number; name: string; lon: string }) {
  return (
    <text x={x} y={y} fontFamily={ARIAL} fontSize={19} fill="#111">
      {name} ({lon}
      <tspan fontSize={12} dy={-8}>O</tspan>
      <tspan dy={8}>E)</tspan>
    </text>
  );
}

function ErrBars({ data, x, y, color, fill, stroke, r }: { data: Q[]; x: Lin; y: Lin; color: string; fill: string; stroke: string; r: number }) {
  return (
    <g>
      {data.map((d, i) => (
        <g key={i}>
          <line x1={x(d[0])} x2={x(d[0])} y1={y(d[2])} y2={y(d[3])} stroke={color} strokeWidth={1.3} />
          <line x1={x(d[0]) - 3} x2={x(d[0]) + 3} y1={y(d[2])} y2={y(d[2])} stroke={color} strokeWidth={1.3} />
          <line x1={x(d[0]) - 3} x2={x(d[0]) + 3} y1={y(d[3])} y2={y(d[3])} stroke={color} strokeWidth={1.3} />
          <circle cx={x(d[0])} cy={y(d[1])} r={r} fill={fill} stroke={stroke} strokeWidth={0.8} />
        </g>
      ))}
    </g>
  );
}

function Arrows({ data, x, y, color, marker, width }: { data: R[]; x: Lin; y: Lin; color: string; marker: string; width: number }) {
  return (
    <g stroke={color} strokeWidth={width}>
      {data.map((d, i) => (
        <line key={i} x1={x(d[0])} x2={x(d[0])} y1={y(d[1])} y2={y(d[2])} markerEnd={`url(#${marker})`} />
      ))}
    </g>
  );
}

function Dots({ data, x, y, r, fill }: { data: P[]; x: Lin; y: Lin; r: number; fill: string }) {
  return (
    <g fill={fill}>
      {data.map((d, i) => (
        <circle key={i} cx={x(d[0])} cy={y(d[1])} r={r} />
      ))}
    </g>
  );
}

function Streaks({ data, x, y, color, width, gap }: { data: R[]; x: Lin; y: Lin; color: string; width: number; gap: number }) {
  return (
    <g stroke={color} strokeWidth={width} strokeLinecap="round" strokeDasharray={`0.1 ${gap}`}>
      {data.map((d, i) => (
        <line key={i} x1={x(d[0])} x2={x(d[0])} y1={y(d[1])} y2={y(d[2])} />
      ))}
    </g>
  );
}

function Dips({ data, base, x, y, color, width }: { data: P[]; base: P[]; x: Lin; y: Lin; color: string; width: number }) {
  return (
    <g stroke={color} strokeWidth={width}>
      {data.map((d, i) => (
        <line key={i} x1={x(d[0])} x2={x(d[0])} y1={y(interpAt(base, d[0]))} y2={y(d[1])} />
      ))}
    </g>
  );
}

export default function App() {
  const xL = d3.scaleLinear().domain([13, 23]).range([142, 639]);
  const xR = d3.scaleLinear().domain([13, 23]).range([767, 1263]);
  const [lx0, lx1] = xL.range();
  const [rx0, rx1] = xR.range();

  const yARio = d3.scaleLinear().domain([1500, 2500]).range([187, 75]);
  const yAMag = d3.scaleLinear().domain([-500, 600]).range([297, 187]);
  const yBRio = d3.scaleLinear().domain([500, 2500]).range([453, 313]);
  const yBMag = d3.scaleLinear().domain([-850, 600]).range([593, 453]);
  const yNUS = d3.scaleLinear().domain([0, 198.6]).range([759, 616]);
  const yARS = d3.scaleLinear().domain([0, 175]).range([885, 759]);
  const yBOX = d3.scaleLinear().domain([0, 197.2]).range([1027, 885]);

  const yPI = d3.scaleLinear().domain([0, 50]).range([220, 74]);
  const yPos = d3.scaleLinear().domain([0, 2040]).range([305, 220]);
  const yNeg = d3.scaleLinear().domain([0, 2000]).range([390, 305]);
  const yVd = d3.scaleLinear().domain([-1000, 1000]).range([727, 413]);
  const yPhU = d3.scaleLinear().domain([55, 78]).range([882, 742]);
  const yPhL = d3.scaleLinear().domain([55, 79.1]).range([1029, 882]);

  const bandL = { x: xL(eventBand[0]), w: xL(eventBand[1]) - xL(eventBand[0]) };
  const bandR = { x: xR(eventBand[0]), w: xR(eventBand[1]) - xR(eventBand[0]) };

  const leftGroups = [
    { top: 75, bottom: 297, div: [187] },
    { top: 313, bottom: 593, div: [453] },
    { top: 616, bottom: 1027, div: [759, 885] },
  ];
  const rightGroups = [
    { top: 74, bottom: 390, div: [220, 305] },
    { top: 413, bottom: 727, div: [] as number[] },
    { top: 742, bottom: 1029, div: [882] },
  ];
  const clips = [
    { id: "clipD", y0: yPI(50), y1: yPI(0) },
    { id: "clipE", y0: yVd(1000), y1: yVd(-1000) },
    { id: "clipFU", y0: yPhU(78), y1: yPhU(55) },
    { id: "clipFL", y0: yPhL(79.1), y1: yPhL(55) },
  ];

  const spikeLines = (spikes: P[], base: P[], x: Lin, y: Lin) =>
    spikes.map((s, i) => {
      const b = interpAt(base, s[0]);
      return (
        <g key={i}>
          <line x1={x(s[0])} x2={x(s[0])} y1={y(b)} y2={y(s[1])} stroke={BLACK} strokeWidth={1.1} />
          <line x1={x(s[0]) + 1} x2={x(s[0]) + 1} y1={y(b)} y2={y(b + (s[1] - b) * 0.35)} stroke={BLACK} strokeWidth={2.6} />
        </g>
      );
    });

  return (
    <svg width={1294} height={1176} style={{ position: "absolute", left: 0, top: 0, background: "#fff" }}>
      <defs>
        <marker id="ahRed" viewBox="0 0 10 10" refX={9} refY={5} markerWidth={7} markerHeight={7} markerUnits="userSpaceOnUse" orient="auto-start-reverse">
          <path d="M0,1 L10,5 L0,9 z" fill={RED} />
        </marker>
        <marker id="ahBlack" viewBox="0 0 10 10" refX={9} refY={5} markerWidth={9} markerHeight={8} markerUnits="userSpaceOnUse" orient="auto-start-reverse">
          <path d="M0,1 L10,5 L0,9 z" fill="#111" />
        </marker>
        <pattern id="grayDots" width={5} height={5} patternUnits="userSpaceOnUse">
          <rect width={5} height={5} fill="#8a8a8a" />
          <circle cx={1.5} cy={1.5} r={1.9} fill={GRAY_PT} />
          <circle cx={4} cy={3.8} r={1.7} fill={GRAY_PT} />
          <circle cx={4.3} cy={0.8} r={0.6} fill="#fff" />
        </pattern>
        <pattern id="blackDots" width={4} height={4} patternUnits="userSpaceOnUse">
          <circle cx={1} cy={1} r={1.2} fill="#0a0a0a" />
          <circle cx={3} cy={3} r={1.1} fill="#0a0a0a" />
          <circle cx={3.2} cy={0.8} r={0.6} fill="#0a0a0a" />
        </pattern>
        {clips.map((c) => (
          <clipPath key={c.id} id={c.id}>
            <rect x={rx0} y={c.y0} width={rx1 - rx0} height={c.y1 - c.y0} />
          </clipPath>
        ))}
      </defs>

      {/* figure frame */}
      <rect x={8} y={6} width={1284} height={1200} rx={10} fill="#fff" stroke="#666" strokeWidth={1.5} />

      <text x={701} y={43} textAnchor="middle" fontFamily={FONT} fontWeight="bold" fontSize={20.5} fill="#111" style={{ whiteSpace: "pre" }}>
        {"14  December  2013"}
      </text>

      {/* ================= LEFT COLUMN ================= */}
      <rect x={bandL.x} y={75} width={bandL.w} height={1027 - 75} fill={CYAN} />
      <rect x={lx0} y={297} width={lx1 - lx0} height={16} fill="#fff" />
      <rect x={lx0} y={593} width={lx1 - lx0} height={23} fill="#fff" />

      {/* panel a */}
      <path d={linePath(dikRio, xL, yARio)} fill="none" stroke={BLACK} strokeWidth={1.3} />
      {spikeLines(dikRioSpikes, dikRio, xL, yARio)}
      <Dips data={dikRioDipsThick} base={dikRio} x={xL} y={yARio} color={BLACK} width={3} />
      <Dips data={dikRioDipsThin} base={dikRio} x={xL} y={yARio} color="#333" width={1.2} />
      <path d={linePath(dikGray, xL, yAMag)} fill="none" stroke={GRAY_LINE} strokeWidth={1.8} />
      <path d={linePath(dikBlack, xL, yAMag)} fill="none" stroke={BLACK} strokeWidth={2.2} />

      {/* panel b */}
      <Dips data={amdRioDipsGray} base={amdRio} x={xL} y={yBRio} color={GRAY_LINE} width={1.5} />
      <path d={linePath(amdRio, xL, yBRio)} fill="none" stroke={BLACK} strokeWidth={1.3} />
      {spikeLines(amdRioSpikes, amdRio, xL, yBRio)}
      <Dips data={amdRioDipsThick} base={amdRio} x={xL} y={yBRio} color={BLACK} width={3} />
      <Dips data={amdRioDipsThin} base={amdRio} x={xL} y={yBRio} color={BLACK} width={1.2} />
      <path d={linePath(amdGray, xL, yBMag)} fill="none" stroke={GRAY_LINE} strokeWidth={1.8} />
      <path d={linePath(amdBlack, xL, yBMag)} fill="none" stroke={BLACK} strokeWidth={2.2} />
      <Arrows data={amdRioArrows} x={xL} y={yBRio} color={RED} marker="ahRed" width={1.2} />
      <Arrows data={amdMagArrows} x={xL} y={yBMag} color={RED} marker="ahRed" width={1.2} />
      <g fontFamily={ARIAL} fontWeight="bold" fontSize={15} fill={RED} textAnchor="middle">
        {amdMagLabels.map((l, i) => (
          <text key={i} x={xL(amdMagLabelPos[i][0])} y={yBMag(amdMagLabelPos[i][1])} dy="0.35em">
            {l}
          </text>
        ))}
      </g>

      {/* panel c */}
      <path d={linePath(nusGray, xL, yNUS)} fill="none" stroke={GRAY_LINE} strokeWidth={1.8} />
      <path d={linePath(nusBlack, xL, yNUS)} fill="none" stroke={BLACK} strokeWidth={2.2} />
      <path d={linePath(arsGray, xL, yARS)} fill="none" stroke={GRAY_LINE} strokeWidth={1.8} />
      <path d={linePath(arsBlack, xL, yARS)} fill="none" stroke={BLACK} strokeWidth={2.2} />
      <path d={linePath(boxGray, xL, yBOX)} fill="none" stroke={GRAY_LINE} strokeWidth={1.8} />
      <path d={linePath(boxBlack, xL, yBOX)} fill="none" stroke={BLACK} strokeWidth={2.2} />
      <Arrows data={nusArrows} x={xL} y={yNUS} color="#111" marker="ahBlack" width={1.3} />
      <Arrows data={arsArrows} x={xL} y={yARS} color="#111" marker="ahBlack" width={1.3} />
      <Arrows data={boxArrows} x={xL} y={yBOX} color="#111" marker="ahBlack" width={1.3} />

      {/* left frames and ticks */}
      {leftGroups.map((g, i) => (
        <g key={i}>
          <rect x={lx0} y={g.top} width={lx1 - lx0} height={g.bottom - g.top} fill="none" stroke="#555" strokeWidth={1.3} />
          {g.div.map((d, j) => (
            <line key={j} x1={lx0} x2={lx1} y1={d} y2={d} stroke="#555" strokeWidth={1.3} />
          ))}
          <XTicks x={xL} y={g.top} dir={-1} step={1 / 6} />
          <XTicks x={xL} y={g.bottom} dir={1} step={1 / 6} />
        </g>
      ))}
      <YTicks y={yARio} x={lx0} dir={-1} values={[1500, 2000, 2500]} len={6} />
      <YTicks y={yARio} x={lx0} dir={-1} values={d3.range(1600, 2500, 100)} len={3} />
      <YTicks y={yAMag} x={lx0} dir={-1} values={[-400, 0, 400]} len={6} />
      <YTicks y={yAMag} x={lx0} dir={-1} values={d3.range(-500, 600, 100)} len={3} />
      <YTicks y={yBRio} x={lx0} dir={-1} values={[500, 1000, 1500, 2000, 2500]} len={6} />
      <YTicks y={yBRio} x={lx0} dir={-1} values={d3.range(600, 2500, 100)} len={3} />
      <YTicks y={yBMag} x={lx0} dir={-1} values={[-800, -400, 0, 400]} len={6} />
      <YTicks y={yBMag} x={lx0} dir={-1} values={d3.range(-800, 600, 100)} len={3} />
      <YTicks y={yNUS} x={lx0} dir={-1} values={[25, 75, 125, 175]} len={6} />
      <YTicks y={yNUS} x={lx0} dir={-1} values={d3.range(5, 198, 10)} len={3} />
      <YTicks y={yARS} x={lx0} dir={-1} values={[50, 100, 150]} len={6} />
      <YTicks y={yARS} x={lx0} dir={-1} values={d3.range(10, 175, 10)} len={3} />
      <YTicks y={yBOX} x={lx0} dir={-1} values={[8, 58, 108, 158]} len={6} />
      <YTicks y={yBOX} x={lx0} dir={-1} values={d3.range(8, 197, 10)} len={3} />

      <YLabels y={yARio} x={133} values={[2500, 2000, 1500]} size={15} />
      <YLabels y={yAMag} x={133} values={[400, 0, -400]} size={15} />
      <YLabels y={yBRio} x={133} values={[2500, 2000, 1500, 1000, 500]} size={15} />
      <YLabels y={yBMag} x={133} values={[400, 0, -400, -800]} size={15} />

      <g fontFamily={FONT} fontSize={15} fill="#111" textAnchor="middle">
        {utTicks.map((t) => (
          <text key={t} x={xL(t)} y={1052}>
            {t}
          </text>
        ))}
        <text x={xL(18.55)} y={1072} fontSize={17}>UT</text>
      </g>

      <g fontFamily={FONT} fontWeight="bold" fontSize={17} fill="#111" textAnchor="middle">
        <text transform="translate(46,135) rotate(-90)">riometer</text>
        <text transform="translate(68,137) rotate(-90)">data,  mV</text>
        <text transform="translate(68,243) rotate(-90)">Bn,Bz, nT</text>
        <text transform="translate(46,375) rotate(-90)">riometer</text>
        <text transform="translate(68,378) rotate(-90)">data,  mV</text>
        <text transform="translate(68,512) rotate(-90)">Bn,Bz, nT</text>
        <text transform="translate(48,830) rotate(-90)" fontSize={15.5} style={{ whiteSpace: "pre" }}>
          {"X, Y component of  geomagnetic field"}
        </text>
      </g>
      <text x={88} y={809} textAnchor="middle" fontFamily={ARIAL} fontSize={17} fill="#111">50 nT</text>
      <g stroke="#111" strokeWidth={1.5}>
        <line x1={88} x2={88} y1={yARS(46)} y2={yARS(46 + scaleBarNT)} />
        <line x1={83} x2={93} y1={yARS(46)} y2={yARS(46)} />
        <line x1={83} x2={93} y1={yARS(46 + scaleBarNT)} y2={yARS(46 + scaleBarNT)} />
      </g>

      <Station x={152} y={215} name="DIK" lon="81" />
      <Station x={153} y={553} name="AMD" lon="60" />
      <Station x={152} y={692} name="NUS" lon="83" />
      <Station x={150} y={838} name="ARS" lon="59" />
      <Station x={148} y={929} name="BOX" lon="38" />

      <g fontFamily={FONT} fontWeight="bold" fontSize={30} fill="#111" textAnchor="middle">
        <text x={618} y={99}>a</text>
        <text x={618} y={344}>b</text>
        <text x={618} y={640}>c</text>
      </g>

      {/* ================= RIGHT COLUMN ================= */}
      {/* panel d clouds */}
      <g clipPath="url(#clipD)">
        <path d={areaPath(piCloudEarly, xR, yPI)} fill="url(#grayDots)" />
        <path d={polyPath(piCloudTop, piCloudBottom, xR, yPI)} fill={GRAY_PT} stroke={GRAY_PT} strokeWidth={3} strokeLinejoin="round" />
        <Dots data={piOutliers} x={xR} y={yPI} r={2.6} fill={GRAY_PT} />
      </g>

      {/* panel e clouds */}
      <g clipPath="url(#clipE)">
        <path d={polyPath(vdGrayHi, vdGrayLo, xR, yVd)} fill={GRAY_PT} stroke={GRAY_PT} strokeWidth={3} strokeLinejoin="round" />
        <Streaks data={vdGrayStreaks} x={xR} y={yVd} color={GRAY_PT} width={5} gap={5} />
        <Dots data={vdGrayPts} x={xR} y={yVd} r={2.7} fill={GRAY_PT} />
        <path d={polyPath(vdBlackHi, vdBlackLo, xR, yVd)} fill="url(#blackDots)" />
        <path d={areaPath(vdCore, xR, yVd)} fill="#0a0a0a" stroke="#0a0a0a" strokeWidth={2} />
        <Streaks data={vdBlackStreaks} x={xR} y={yVd} color="#111" width={3} gap={3.5} />
        <Dots data={vdBlackPts} x={xR} y={yVd} r={1.8} fill="#111" />
      </g>
      <line x1={rx0} x2={rx1} y1={yVd(0)} y2={yVd(0)} stroke="#222" strokeWidth={1} />

      {/* panel f clouds */}
      <g clipPath="url(#clipFU)">
        <path d={polyPath(phUpGrayHi, phUpGrayLo, xR, yPhU)} fill={GRAY_F} stroke={GRAY_F} strokeWidth={4} strokeLinejoin="round" />
        <path d={polyPath(phUpBlackHi, phUpBlackLo, xR, yPhU)} fill="#0a0a0a" stroke="#0a0a0a" strokeWidth={2} strokeLinejoin="round" />
        <Dots data={phUpPts} x={xR} y={yPhU} r={2.7} fill={GRAY_F} />
      </g>
      <g clipPath="url(#clipFL)">
        <path d={polyPath(phLoGrayHi, phLoGrayLo, xR, yPhL)} fill={GRAY_F} stroke={GRAY_F} strokeWidth={4} strokeLinejoin="round" />
        <path d={polyPath(phLoBlack1Hi, phLoBlack1Lo, xR, yPhL)} fill="#0a0a0a" stroke="#0a0a0a" strokeWidth={2} strokeLinejoin="round" />
        <path d={polyPath(phLoBlack2Hi, phLoBlack2Lo, xR, yPhL)} fill="#0a0a0a" stroke="#0a0a0a" strokeWidth={2} strokeLinejoin="round" />
        <Dots data={phLoPts} x={xR} y={yPhL} r={2.7} fill={GRAY_F} />
      </g>

      {/* event band on the right */}
      <rect x={bandR.x} y={74} width={bandR.w} height={390 - 74} fill={CYAN} opacity={0.88} />
      <rect x={bandR.x} y={413} width={bandR.w} height={727 - 413} fill={CYAN} opacity={0.82} />
      <rect x={bandR.x} y={742} width={bandR.w} height={1029 - 742} fill={CYAN} opacity={0.8} />

      {/* d: means and counts */}
      <ErrBars data={piMean} x={xR} y={yPI} color={RED} fill={RED} stroke={RED} r={4} />
      <path d={linePath(casesPosGray, xR, yPos)} fill="none" stroke={GRAY_LINE} strokeWidth={2} />
      <Dots data={casesPosGray} x={xR} y={yPos} r={2.4} fill={GRAY_LINE} />
      <path d={linePath(casesPosBlack, xR, yPos)} fill="none" stroke={BLACK} strokeWidth={2} />
      <Dots data={casesPosBlack} x={xR} y={yPos} r={2.6} fill={BLACK} />
      <path d={linePath(casesNegGray, xR, yNeg)} fill="none" stroke={GRAY_LINE} strokeWidth={2} />
      <Dots data={casesNegGray} x={xR} y={yNeg} r={2.4} fill={GRAY_LINE} />
      <path d={linePath(casesNegBlack, xR, yNeg)} fill="none" stroke={BLACK} strokeWidth={2} />
      <Dots data={casesNegBlack} x={xR} y={yNeg} r={2.6} fill={BLACK} />

      {/* e: means and arrows */}
      <ErrBars data={vdBluePos} x={xR} y={yVd} color="#3346e6" fill="#2536e0" stroke="#2536e0" r={3.6} />
      <ErrBars data={vdBlueNeg} x={xR} y={yVd} color="#3346e6" fill="#2536e0" stroke="#2536e0" r={3.6} />
      <ErrBars data={vdYellowPos} x={xR} y={yVd} color="#c9b800" fill="#f4ee17" stroke="#d9cc00" r={3.8} />
      <ErrBars data={vdYellowNeg} x={xR} y={yVd} color="#c9b800" fill="#f4ee17" stroke="#d9cc00" r={3.8} />
      <Arrows data={vdArrowsUp} x={xR} y={yVd} color={RED} marker="ahRed" width={1.2} />
      <Arrows data={vdArrowsDown} x={xR} y={yVd} color={RED} marker="ahRed" width={1.2} />

      {/* f: arrows */}
      <g stroke={RED} strokeWidth={1.2}>
        {phArrows.map((d, i) => (
          <line key={i} x1={xR(d[0])} x2={xR(d[0])} y1={yPhL(d[1])} y2={yPhL(d[2])} markerStart="url(#ahRed)" markerEnd="url(#ahRed)" />
        ))}
      </g>

      {/* right frames and ticks */}
      {rightGroups.map((g, i) => (
        <g key={i}>
          <rect x={rx0} y={g.top} width={rx1 - rx0} height={g.bottom - g.top} fill="none" stroke="#666" strokeWidth={1.3} />
          {g.div.map((d, j) => (
            <line key={j} x1={rx0} x2={rx1} y1={d} y2={d} stroke="#333" strokeWidth={1.3} />
          ))}
          <XTicks x={xR} y={g.top} dir={1} step={0.2} />
          <XTicks x={xR} y={g.bottom} dir={1} step={0.2} />
        </g>
      ))}
      <YTicks y={yPI} x={rx0} dir={-1} values={d3.range(0, 51, 5)} len={4} />
      <YTicks y={yPI} x={rx1} dir={-1} values={d3.range(0, 51, 5)} len={4} />
      <YTicks y={yPos} x={rx0} dir={-1} values={d3.range(0, 2001, 250)} len={4} />
      <YTicks y={yPos} x={rx1} dir={-1} values={d3.range(0, 2001, 250)} len={4} />
      <YTicks y={yNeg} x={rx0} dir={-1} values={d3.range(0, 2001, 250)} len={4} />
      <YTicks y={yNeg} x={rx1} dir={-1} values={d3.range(0, 2001, 250)} len={4} />
      <YTicks y={yVd} x={rx0} dir={-1} values={d3.range(-1000, 1001, 100)} len={4} />
      <YTicks y={yVd} x={rx1} dir={-1} values={d3.range(-1000, 1001, 100)} len={4} />
      <YTicks y={yPhU} x={rx0} dir={-1} values={d3.range(55, 78, 1)} len={3} />
      <YTicks y={yPhU} x={rx1} dir={-1} values={d3.range(55, 78, 1)} len={3} />
      <YTicks y={yPhL} x={rx0} dir={-1} values={d3.range(55, 79, 1)} len={3} />
      <YTicks y={yPhL} x={rx1} dir={-1} values={d3.range(55, 79, 1)} len={3} />

      <YLabels y={yPI} x={758} values={[40, 20]} size={17} />
      <YLabels y={yPos} x={758} values={[1000, 0]} size={17} />
      <YLabels y={yNeg} x={758} values={[1000, 0]} size={17} />
      <YLabels y={yVd} x={758} values={[1000, 500, 0, -500, -1000]} size={17} />
      <YLabels y={yPhU} x={758} values={[75, 65, 55]} size={17} />
      <YLabels y={yPhL} x={758} values={[75, 65, 55]} size={17} />

      <g fontFamily={FONT} fontSize={15} fill="#111" textAnchor="middle">
        {utTicks.map((t) => (
          <text key={t} x={t === 23 ? xR(t) - 8 : xR(t)} y={1052}>
            {t}
          </text>
        ))}
        <text x={xR(18.55)} y={1072} fontSize={17}>UT</text>
      </g>

      <g fontFamily={FONT} fontWeight="bold" fontSize={17} fill="#111" textAnchor="middle">
        <text transform="translate(720,141) rotate(-90)">PI, dB</text>
        <text transform="translate(699,307) rotate(-90)">number of cases</text>
        <text transform="translate(704,567) rotate(-90)" fontSize={19}>Vd m/s</text>
      </g>
      <text transform="translate(707,893) rotate(-90)" textAnchor="middle" fontFamily="DejaVu Serif, serif" fontWeight="bold" fontSize={20} fill="#111">
        φ<tspan fontSize={14} dy={-6}>’</tspan>
        <tspan fontSize={12} dy={10}>s</tspan>
        <tspan dy={-4}> , deg</tspan>
      </text>

      <g fontFamily={FONT} fontWeight="bold" fontSize={17} fill="#111">
        <text x={781} y={256}>Vd&gt;0</text>
        <text x={781} y={340}>Vd&lt;0</text>
        <text x={803} y={766}>Vd&gt;0</text>
        <text x={803} y={911}>Vd&lt;0</text>
      </g>
      <g fontFamily={FONT} fontWeight="bold" fontSize={30} fill="#111" textAnchor="middle">
        <text x={788} y={104}>d</text>
        <text x={1247} y={437}>e</text>
        <text x={1246} y={770}>f</text>
      </g>

      {/* caption */}
      <g fontFamily="Open Sans, sans-serif" fontSize={17.5} fill="#333">
        <text x={25} y={1106} textLength={1252} lengthAdjust="spacingAndGlyphs">
          <tspan fontWeight={700} fill="#222">Fig. 6</tspan>
          {"  Variations in: "}
          <tspan fontWeight={700}>a</tspan>
          {", "}
          <tspan fontWeight={700}>b</tspan>
          {" riometer/magnetometer data at DIK and AMD; "}
          <tspan fontWeight={700}>c</tspan>
          {" geomagnetic X , Y components at 3 midlatitude stations; "}
          <tspan fontWeight={700}>d</tspan>
          {" "}
          <tspan fontStyle="italic">P</tspan>
          <tspan fontStyle="italic" fontSize={12} dy={4}>I</tspan>
          <tspan dy={-4}>{" and number,"}</tspan>
        </text>
        <text x={25} y={1132} textLength={1207} lengthAdjust="spacingAndGlyphs">
          {"e,f "}
          <tspan fontStyle="italic">V</tspan>
          <tspan fontStyle="italic" fontSize={12} dy={4}>D</tspan>
          <tspan dy={-4}>{" and "}</tspan>
          <tspan fontStyle="italic" fontWeight={700}>ϕ</tspan>
          <tspan fontSize={13} dy={-5}>′</tspan>
          <tspan fontStyle="italic" fontSize={11} dy={9}>S</tspan>
          <tspan dy={-4}>{" of received signals. "}</tspan>
          <tspan fontStyle="italic">Black</tspan>
          {" and "}
          <tspan fontStyle="italic">gray lines/points</tspan>
          {" correspond to signals with "}
          <tspan fontStyle="italic">P</tspan>
          <tspan fontStyle="italic" fontSize={12} dy={4}>I</tspan>
          <tspan dy={-4}>{" greater and less the mean values of "}</tspan>
          <tspan fontStyle="italic">P</tspan>
          <tspan fontStyle="italic" fontSize={12} dy={4}>I</tspan>
          <tspan dy={-4}>{" over the period"}</tspan>
        </text>
        <text x={25} y={1158}>1300–2300 UT correspondingly</text>
      </g>
    </svg>
  );
}
